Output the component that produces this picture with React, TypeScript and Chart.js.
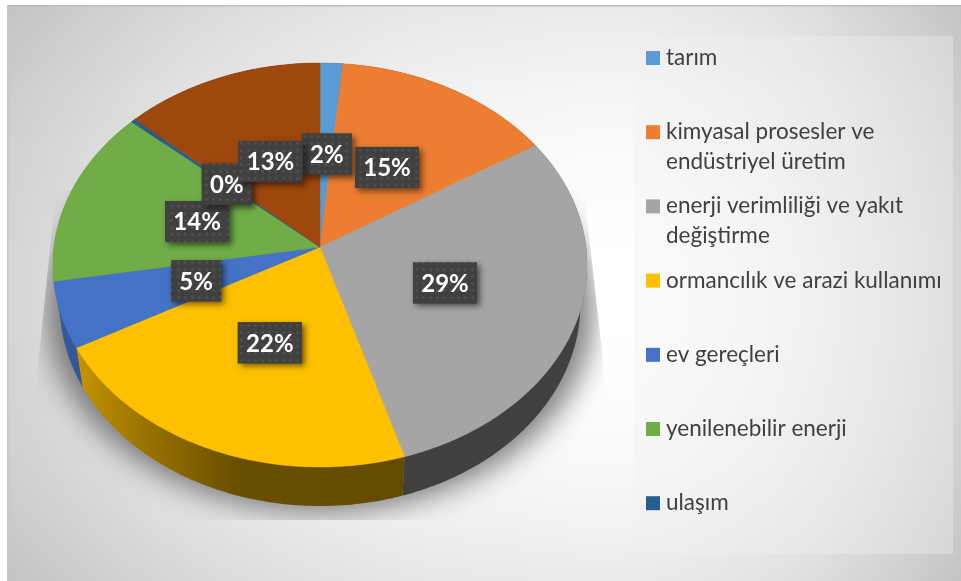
import React, { useEffect, useRef } from "react";
import { Chart, registerables } from "chart.js";

Chart.register(...registerables);

const categories = [
  "tarım",
  "kimyasal prosesler ve endüstriyel üretim",
  "enerji verimliliği ve yakıt değiştirme",
  "ormancılık ve arazi kullanımı",
  "ev gereçleri",
  "yenilenebilir enerji",
  "ulaşım",
  "",
];
const values = [1.5, 14.6, 29.2, 21.7, 5.3, 14.2, 0.3, 13.2];
const percentLabels = ["2%", "15%", "29%", "22%", "5%", "14%", "0%", "13%"];
const colors = ["#5b9bd5", "#ed7d31", "#a5a5a5", "#ffc000", "#4472c4", "#70ad47", "#255e91", "#9e480e"];

const W = 961;
const H = 581;
const CX = 320;
const CY = 247;
const RX = 266;
const RY = 200.4;
const K = 0.0891;
const DEPTH = 39;
const FONT = "Lato";

// perspective projection of the unit pie disc to the screen
const project = (a: number, r = 1) => {
  const u = Math.cos(a) * r;
  const v = Math.sin(a) * r;
  const d = 1 - K * v;
  return { x: CX + (RX * u) / d, y: CY + (RY * v) / d };
};
const lower = (p: { x: number; y: number }) => ({ x: CX + (p.x - CX) * 0.975, y: p.y + DEPTH });

const rim = (a0: number, a1: number) => {
  const n = Math.max(2, Math.ceil(Math.abs(a1 - a0) / 0.01));
  const pts = [];
  for (let i = 0; i <= n; i++) pts.push(project(a0 + ((a1 - a0) * i) / n));
  return pts;
};

const shade = (hex: string, f: number) => {
  const n = parseInt(hex.slice(1), 16);
  const c = [(n >> 16) & 255, (n >> 8) & 255, n & 255].map((x) => Math.round(x * f));
  return `rgb(${c[0]},${c[1]},${c[2]})`;
};

const background = {
  id: "background",
  beforeDraw(chart: any) {
    const ctx: CanvasRenderingContext2D = chart.ctx;
    ctx.save();
    ctx.fillStyle = "#ffffff";
    ctx.fillRect(0, 0, W, H);
    const x0 = 8, y0 = 6;
    ctx.globalCompositeOperation = "multiply";
    const fx = 600, fy = 300;
    const h = ctx.createLinearGradient(x0, 0, W, 0);
    const v = ctx.createLinearGradient(0, y0, 0, H);
    for (let i = 0; i <= 20; i++) {
      const s = i / 20;
      const x = x0 + (W - x0) * s;
      const tx = x < fx ? (fx - x) / (fx - x0) : (x - fx) / (W - fx);
      const gh = Math.round(255 - 42 * tx * tx);
      h.addColorStop(s, `rgb(${gh},${gh},${gh})`);
      const y = y0 + (H - y0) * s;
      const ty = y < fy ? (fy - y) / (fy - y0) : (y - fy) / (H - fy);
      const gv = Math.round(255 - 21 * ty * ty);
      v.addColorStop(s, `rgb(${gv},${gv},${gv})`);
    }
    ctx.fillStyle = h;
    ctx.fillRect(x0, y0, W - x0, H - y0);
    ctx.fillStyle = v;
    ctx.fillRect(x0, y0, W - x0, H - y0);
    ctx.globalCompositeOperation = "source-over";
    ctx.fillStyle = "#c6c6c6";
    ctx.fillRect(7, 5, 1.5, H - 5);
    ctx.fillStyle = "#bdbdbd";
    ctx.fillRect(7, 5, W - 7, 1.5);
    // legend panel
    ctx.fillStyle = "rgba(240,240,240,0.35)";
    ctx.fillRect(634, 36, 319, 518);
    // pie shadow, clipped to the projected shadow plane
    ctx.beginPath();
    ctx.moveTo(56, 190);
    ctx.lineTo(36, 385);
    ctx.lineTo(36, 520);
    ctx.lineTo(604, 520);
    ctx.lineTo(604, 370);
    ctx.lineTo(584, 190);
    ctx.closePath();
    ctx.clip();
    ctx.filter = "blur(14px)";
    ctx.fillStyle = "rgba(105,105,105,0.85)";
    const all = rim(0, Math.PI * 2).map(lower);
    ctx.beginPath();
    all.forEach((p, i) => {
      const q = { x: CX + (p.x - CX) * 1.05, y: p.y + 6 };
      if (i) ctx.lineTo(q.x, q.y);
      else ctx.moveTo(q.x, q.y);
    });
    ctx.closePath();
    ctx.fill();
    ctx.restore();
  },
};

const pie3d = {
  id: "pie3d",
  beforeDatasetDraw(chart: any) {
    const ctx: CanvasRenderingContext2D = chart.ctx;
    const arcs = chart.getDatasetMeta(0).data;
    ctx.save();
    // side wall
    arcs.forEach((arc: any, i: number) => {
      const a0 = arc.startAngle, a1 = arc.endAngle;
      const top = rim(a0, a1);
      const g = ctx.createLinearGradient(60, 0, 400, 0);
      g.addColorStop(0, shade(colors[i], 0.78));
      g.addColorStop(0.06, shade(colors[i], 0.76));
      g.addColorStop(0.25, shade(colors[i], 0.6));
      g.addColorStop(0.52, shade(colors[i], 0.41));
      g.addColorStop(1, shade(colors[i], 0.39));
      ctx.fillStyle = g;
      ctx.beginPath();
      top.forEach((p, j) => (j ? ctx.lineTo(p.x, p.y) : ctx.moveTo(p.x, p.y)));
      top.slice().reverse().map(lower).forEach((p) => ctx.lineTo(p.x, p.y));
      ctx.closePath();
      ctx.fill();
    });
    // top surface
    arcs.forEach((arc: any, i: number) => {
      const top = rim(arc.startAngle, arc.endAngle);
      ctx.fillStyle = colors[i];
      ctx.strokeStyle = colors[i];
      ctx.lineWidth = 0.5;
      ctx.beginPath();
      ctx.moveTo(CX, CY);
      top.forEach((p) => ctx.lineTo(p.x, p.y));
      ctx.closePath();
      ctx.fill();
      ctx.stroke();
    });
    ctx.restore();
    return false;
  },
};

const makeDots = () => {
  const c = document.createElement("canvas");
  c.width = 7;
  c.height = 7;
  const x = c.getContext("2d")!;
  x.fillStyle = "#404040";
  x.fillRect(0, 0, 7, 7);
  x.fillStyle = "rgba(255,255,255,0.1)";
  x.beginPath();
  x.arc(3.5, 3.5, 1.3, 0, Math.PI * 2);
  x.fill();
  return c;
};

const labelsAndLegend = {
  id: "labelsAndLegend",
  afterDatasetsDraw(chart: any) {
    const ctx: CanvasRenderingContext2D = chart.ctx;
    const arcs = chart.getDatasetMeta(0).data;
    ctx.save();
    // percent labels
    const pattern = ctx.createPattern(makeDots(), "repeat")!;
    ctx.font = `bold 24px ${FONT}`;
    ctx.textAlign = "center";
    ctx.textBaseline = "middle";
    arcs.forEach((arc: any, i: number) => {
      const p = project((arc.startAngle + arc.endAngle) / 2, 0.49);
      const cx = p.x + 1;
      const cy = p.y + 1;
      const w = percentLabels[i].length > 2 ? 64 : 50;
      const h = 41;
      const x = cx - w / 2, y = cy - h / 2;
      ctx.save();
      ctx.shadowColor = "rgba(0,0,0,0.55)";
      ctx.shadowBlur = 6;
      ctx.shadowOffsetX = 3;
      ctx.shadowOffsetY = 3;
      ctx.fillStyle = "#404040";
      ctx.fillRect(x, y, w, h);
      ctx.restore();
      ctx.fillStyle = pattern;
      ctx.fillRect(x, y, w, h);
      ctx.fillStyle = "#ffffff";
      ctx.fillText(percentLabels[i], cx, cy + 1);
    });
    // legend
    ctx.textAlign = "left";
    ctx.textBaseline = "alphabetic";
    ctx.font = `22.5px ${FONT}`;
    const labels: string[] = chart.data.labels;
    labels.forEach((label, i) => {
      if (!label) return;
      const top = 51 + i * 74.2;
      ctx.fillStyle = colors[i];
      ctx.fillRect(646, top, 14, 14);
      ctx.fillStyle = "#404040";
      const lines: string[] = [];
      let line = "";
      label.split(" ").forEach((word) => {
        const t = line ? line + " " + word : word;
        if (ctx.measureText(t).width > 285 && line) {
          lines.push(line);
          line = word;
        } else line = t;
      });
      lines.push(line);
      lines.forEach((l, j) => ctx.fillText(l, 666, top + 14 + j * 29.5));
    });
    ctx.restore();
  },
};

export default function App() {
  const ref = useRef<HTMLCanvasElement>(null);
  useEffect(() => {
    const chart = new Chart(ref.current!, {
      type: "pie",
      data: {
        labels: categories,
        datasets: [{ data: values, backgroundColor: colors, borderWidth: 0 }],
      },
      options: {
        animation: false,
        responsive: false,
        devicePixelRatio: 1,
        layout: { padding: 0 },
        plugins: { legend: { display: false }, tooltip: { enabled: false } },
      },
      plugins: [background, pie3d, labelsAndLegend],
    } as any);
    return () => chart.destroy();
  }, []);
  return (
    <div style={{ position: "absolute", left: 0, top: 0, width: W, height: H, overflow: "hidden" }}>
      <canvas ref={ref} width={W} height={H} style={{ display: "block" }} />
    </div>
  );
}
